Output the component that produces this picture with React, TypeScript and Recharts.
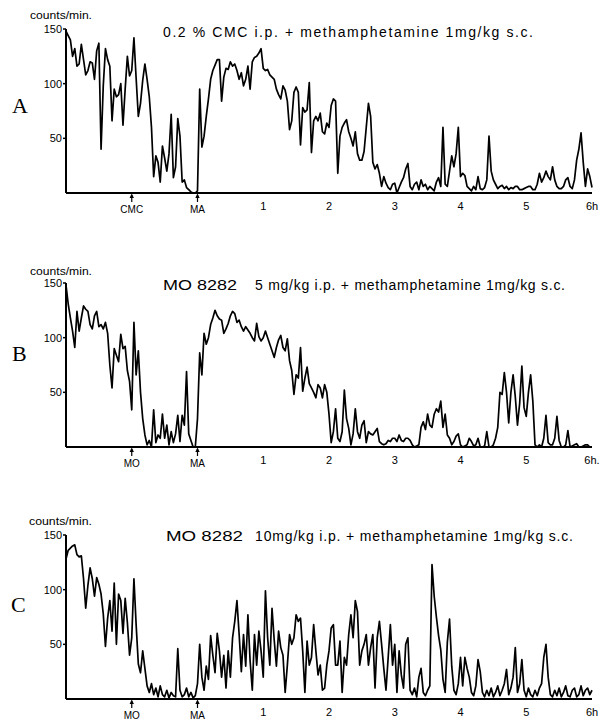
import React from "react";
import { LineChart, Line, XAxis, YAxis } from "recharts";

// sampling grid: one count every 2 min, from -2 h to 6 h (MA injection = 0)
const MINUTES = Array.from({ length: 241 }, (_, i) => -120 + 2 * i);
const HOUR_TICKS = [-60, 0, 60, 120, 180, 240, 300, 360];
const Y_TICKS = [50, 100, 150];

const LABELS_A = ["CMC", "MA", "1", "2", "3", "4", "5", "6h"];
const LABELS_B = ["MO", "MA", "1", "2", "3", "4", "5", "6h."];
const LABELS_C = ["MO", "MA", "1", "2", "3", "4", "5", "6h"];

// counts/min
const COUNTS_A = [
  148, 144, 140, 125, 132, 116, 118, 136, 122, 108,
  112, 120, 119, 104, 130, 137, 40, 98, 132, 122,
  116, 66, 95, 88, 90, 100, 62, 95, 125, 107,
  112, 142, 105, 70, 82, 103, 118, 104, 88, 60,
  15, 34, 28, 10, 43, 32, 20, 36, 72, 14,
  24, 68, 52, 10, 12, 5, 3, 1, 0, 0,
  2, 95, 42, 52, 70, 86, 104, 112, 117, 122,
  122, 84, 106, 114, 113, 120, 116, 118, 112, 104,
  110, 98, 104, 116, 95, 120, 124, 125, 128, 132,
  114, 112, 113, 108, 106, 104, 95, 90, 86, 98,
  94, 84, 58, 66, 92, 97, 92, 44, 78, 74,
  76, 101, 37, 66, 70, 66, 73, 56, 54, 64,
  60, 80, 86, 84, 18, 52, 60, 64, 67, 56,
  50, 43, 56, 36, 30, 30, 38, 60, 82, 70,
  28, 22, 26, 18, 6, 15, 9, 5, 3, 8,
  9, 0, 5, 10, 14, 22, 27, 6, 3, 8,
  10, 3, 12, 6, 8, 3, 6, 4, 2, 10,
  14, 6, 60, 8, 6, 20, 34, 24, 36, 60,
  15, 18, 16, 6, 4, 2, 6, 3, 15, 4,
  3, 5, 12, 52, 20, 12, 8, 4, 6, 7,
  4, 6, 3, 5, 4, 6, 6, 3, 3, 4,
  5, 6, 6, 3, 3, 8, 18, 10, 14, 20,
  15, 12, 24, 12, 6, 4, 4, 6, 12, 14,
  6, 4, 12, 30, 40, 55, 28, 6, 22, 15,
  5,
];

const COUNTS_B = [
  148, 131, 118, 106, 91, 124, 106, 118, 129, 126,
  124, 112, 108, 120, 124, 110, 112, 108, 114, 104,
  75, 54, 90, 84, 78, 103, 90, 92, 70, 60,
  34, 114, 66, 88, 50, 26, 11, 2, 6, 0,
  34, 4, 11, 8, 30, 8, 20, 2, 14, 4,
  12, 29, 5, 29, 20, 69, 12, 6, 0, 0,
  26, 86, 66, 104, 94, 100, 112, 118, 125, 120,
  117, 116, 104, 108, 113, 120, 124, 122, 114, 116,
  110, 106, 110, 107, 104, 100, 97, 113, 101, 97,
  100, 106, 100, 94, 88, 82, 91, 98, 102, 91,
  88, 99, 79, 70, 48, 66, 63, 91, 51, 63,
  73, 58, 54, 50, 45, 57, 54, 45, 57, 50,
  30, 4, 14, 35, 8, 5, 14, 52, 26, 17,
  2, 12, 35, 14, 8, 20, 24, 4, 14, 12,
  11, 14, 17, 5, 3, 2, 3, 6, 5, 8,
  8, 5, 11, 6, 5, 8, 8, 6, 2, 0,
  1, 2, 18, 23, 16, 30, 20, 18, 30, 35,
  32, 42, 18, 30, 11, 8, 2, 5, 10, 12,
  2, 0, 1, 2, 8, 5, 1, 2, 8, 0,
  0, 1, 14, 0, 0, 2, 8, 18, 50, 48,
  68, 50, 22, 50, 66, 46, 20, 40, 74, 36,
  28, 50, 66, 42, 2, 0, 2, 0, 8, 29,
  4, 2, 2, 8, 28, 6, 0, 0, 2, 15,
  0, 1, 2, 3, 0, 0, 1, 2, 2, 0,
  0,
];

const COUNTS_C = [
  128, 136, 138, 140, 141, 132, 130, 131, 110, 83,
  104, 120, 110, 94, 111, 105, 96, 78, 48, 74,
  90, 62, 106, 50, 96, 90, 60, 92, 70, 40,
  56, 110, 68, 32, 24, 44, 28, 12, 6, 14,
  4, 10, 2, 12, 4, 2, 8, 1, 6, 3,
  2, 46, 8, 2, 4, 10, 2, 6, 1, 3,
  14, 50, 20, 8, 30, 18, 58, 40, 24, 60,
  44, 20, 40, 10, 44, 20, 56, 71, 90, 59,
  25, 59, 30, 77, 35, 8, 59, 31, 62, 44,
  20, 99, 56, 31, 83, 54, 30, 62, 47, 40,
  6, 31, 59, 50, 56, 77, 71, 74, 44, 6,
  53, 31, 38, 68, 44, 22, 31, 8, 10, 31,
  44, 65, 68, 31, 31, 53, 6, 38, 31, 59,
  77, 56, 90, 80, 31, 44, 50, 59, 31, 47,
  59, 10, 56, 71, 50, 28, 8, 38, 68, 31,
  50, 6, 44, 22, 10, 50, 56, 8, 4, 10,
  2, 20, 28, 6, 3, 8, 12, 123, 94, 75,
  58, 45, 18, 6, 52, 73, 30, 8, 4, 14,
  38, 12, 38, 28, 20, 6, 3, 12, 36, 25,
  6, 2, 8, 3, 10, 2, 6, 12, 3, 8,
  14, 27, 4, 10, 20, 47, 6, 14, 36, 8,
  2, 10, 4, 2, 8, 3, 10, 14, 38, 50,
  20, 4, 2, 8, 3, 10, 2, 6, 12, 3,
  2, 8, 10, 2, 4, 12, 3, 8, 10, 4,
  8,
];

const FONT = "'Liberation Sans', Arial, sans-serif";

function TimeTick(props: any) {
  const { x, y, payload, labels } = props;
  const idx = HOUR_TICKS.indexOf(payload.value);
  const arrow = payload.value <= 0;
  return (
    <g transform={`translate(${x},${y})`}>
      {arrow && (
        <>
          <line x1={0} y1={2} x2={0} y2={9} stroke="#000" strokeWidth={1.2} />
          <path d="M-2.2,5 L0,0.5 L2.2,5 Z" fill="#000" />
        </>
      )}
      <text
        x={0}
        y={arrow ? 20 : 17}
        textAnchor="middle"
        fontFamily={FONT}
        fontSize={arrow ? 10 : 11}
        fill="#000"
      >
        {labels[idx]}
      </text>
    </g>
  );
}

function Panel({ counts, labels, top }: { counts: number[]; labels: string[]; top: number }) {
  const data = MINUTES.map((t, i) => ({ t, v: counts[i] }));
  return (
    <div style={{ position: "absolute", left: 0, top }}>
      <LineChart width={603} height={216} data={data} margin={{ top: 29, right: 11, left: 10, bottom: 0 }}>
        <XAxis
          dataKey="t"
          type="number"
          domain={[-120, 360]}
          ticks={HOUR_TICKS}
          height={23}
          tickLine={false}
          tickSize={0}
          tickMargin={0}
          axisLine={{ stroke: "#000", strokeWidth: 2 }}
          tick={<TimeTick labels={labels} />}
          interval={0}
        />
        <YAxis
          domain={[0, 150]}
          ticks={Y_TICKS}
          width={56}
          tickSize={3}
          tickMargin={1}
          tickLine={{ stroke: "#000", strokeWidth: 1.5 }}
          axisLine={{ stroke: "#000", strokeWidth: 2 }}
          tick={{ fill: "#000", fontSize: 11, fontFamily: FONT }}
          interval={0}
        />
        <Line
          type="linear"
          dataKey="v"
          stroke="#000"
          strokeWidth={1.7}
          strokeLinejoin="round"
          dot={false}
          activeDot={false}
          isAnimationActive={false}
        />
      </LineChart>
    </div>
  );
}

export default function App() {
  return (
    <div
      style={{
        position: "absolute",
        left: 0,
        top: 0,
        width: 603,
        height: 722,
        background: "#fff",
        overflow: "hidden",
      }}
    >
      <Panel counts={COUNTS_A} labels={LABELS_A} top={0} />
      <Panel counts={COUNTS_B} labels={LABELS_B} top={254} />
      <Panel counts={COUNTS_C} labels={LABELS_C} top={506} />
      <svg
        width={603}
        height={722}
        style={{ position: "absolute", left: 0, top: 0, pointerEvents: "none" }}
        fontFamily={FONT}
      >
        <text x={12} y={113} fontFamily="'Liberation Serif', serif" fontSize={22}>A</text>
        <text x={12} y={361} fontFamily="'Liberation Serif', serif" fontSize={22}>B</text>
        <text x={11} y={612} fontFamily="'Liberation Serif', serif" fontSize={22}>C</text>

        <text x={30} y={19} fontSize={10} textLength={62} lengthAdjust="spacingAndGlyphs">counts/min.</text>
        <text x={30} y={275} fontSize={10} textLength={62} lengthAdjust="spacingAndGlyphs">counts/min.</text>
        <text x={29} y={525} fontSize={10} textLength={63} lengthAdjust="spacingAndGlyphs">counts/min.</text>

        <text x={163} y={37} fontSize={14} textLength={370}>0.2 % CMC i.p. + methamphetamine 1mg/kg s.c.</text>
        <text x={163} y={290} fontSize={14} textLength={74} lengthAdjust="spacingAndGlyphs">MO 8282</text>
        <text x={255} y={290} fontSize={14} textLength={310}>5 mg/kg i.p. + methamphetamine 1mg/kg s.c.</text>
        <text x={166} y={541} fontSize={14} textLength={77} lengthAdjust="spacingAndGlyphs">MO 8282</text>
        <text x={255} y={541} fontSize={14} textLength={318}>10mg/kg i.p. + methamphetamine 1mg/kg s.c.</text>
      </svg>
    </div>
  );
}
